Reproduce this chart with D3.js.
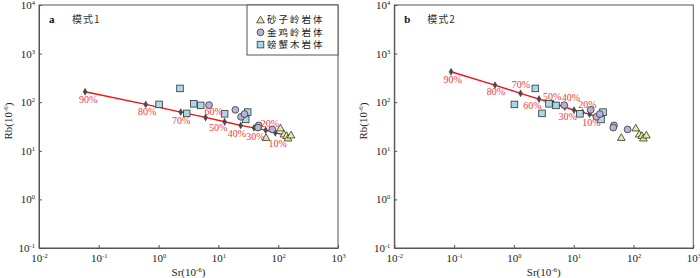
<!DOCTYPE html>
<html lang="zh">
<head>
<meta charset="UTF-8">
<title>Rb-Sr</title>
<script src="https://cdn.jsdelivr.net/npm/d3@7"></script>
<style>
body { margin: 0; background: #fff; }
</style>
</head>
<body>
<div id="chart"></div>
<script>
// ---- data ----
const groups = ["砂子岭岩体", "金鸡岭岩体", "螃蟹木岩体"];

const shaziSr = [62.5, 109, 125, 138, 146, 164];
const shaziRb = [18.7, 29.3, 22, 20.5, 18.2, 21];

const jinjiSr = [6.97, 19.2, 23.9, 27.3, 47.2, 45.9, 79.6];
const jinjiRb = [87, 69.7, 50, 57, 33.3, 30, 27.5];

const pangxieSr = [1.02, 2.28, 2.95, 3.86, 5.06, 12.7, 30.9, 28.6];
const pangxieRb = [90, 192, 58.8, 92.7, 86, 57.7, 62.5, 44.2];

// fractional crystallisation steps, last one = starting melt (no label)
const steps = ["90%", "80%", "70%", "60%", "50%", "40%", "30%", "20%", "10%", ""];
const modelASr = [0.059, 0.61, 2.34, 6.1, 12.7, 23.6, 39.4, 61.8, 89.5, 127];
const modelARb = [164, 90, 62.5, 48.6, 39.5, 33.3, 29.7, 26.6, 23.4, 21.4];
const modelBSr = [0.089, 0.483, 1.29, 2.63, 4.55, 7.1, 10.1, 14.0, 18.4, 23.8];
const modelBRb = [423, 225, 152, 116, 94.4, 79.6, 68.7, 61.7, 56.9, 50.0];

const xTicks = [0.01, 0.1, 1, 10, 100, 1000];
const yTicks = [0.1, 1, 10, 100, 1000, 10000];

// label offsets for the % tags (layout only)
const labelOffA = [[3,7.5],[1.5,7.5],[0.5,8],[8,-5.6],[-6.4,6],[-3.7,8],[1.5,9],[4.3,-6.7],[2.4,11]];
const labelOffB = [[1.5,7.6],[1,6.7],[0.5,-9],[-6.7,6],[-1.2,-6.6],[6,-10],[-6.3,6.7],[5,-8],[2,8.8]];

const W = 700, H = 278;
const plotTop = 5, plotBottom = 248;
const serif = '"Liberation Serif", "Times New Roman", serif';
const cjk = '"Noto Sans CJK SC", sans-serif';
const axisColor = '#555';
const lineRed = '#ee1111';
const tagRed = '#f03a3a';
const fillTri = '#e2ee9a', fillCir = '#b8b2d9', fillSq = '#a8d8e6';

const svg = d3.select('#chart').append('svg')
  .attr('width', W).attr('height', H)
  .style('display', 'block');

const panels = [
  {tag: 'a', title: '模式1', left: 39, right: 338, sr: modelASr, rb: modelARb, off: labelOffA, legend: true, rbX: 9},
  {tag: 'b', title: '模式2', left: 394.3, right: 693.3, sr: modelBSr, rb: modelBRb, off: labelOffB, legend: false, rbX: 364}
];

function expLabel(sel, d) {
  const e = Math.round(Math.log10(d));
  sel.text(null);
  sel.append('tspan').text('10');
  sel.append('tspan').attr('dy', -4).attr('font-size', 6.5).text(e);
}

function marker(g, kind, cx, cy) {
  if (kind == 0) {
    g.append('path')
      .attr('d', d3.symbol(d3.symbolTriangle, 26)())
      .attr('transform', `translate(${cx},${cy + 0.6})`)
      .attr('fill', fillTri).attr('stroke', '#333').attr('stroke-width', 0.8);
  } else if (kind == 1) {
    g.append('circle').attr('cx', cx).attr('cy', cy).attr('r', 3.4)
      .attr('fill', fillCir).attr('stroke', '#333').attr('stroke-width', 0.8);
  } else {
    g.append('rect').attr('x', cx - 3.3).attr('y', cy - 3.3)
      .attr('width', 6.6).attr('height', 6.6)
      .attr('fill', fillSq).attr('stroke', '#333').attr('stroke-width', 0.8);
  }
}

function drawPanel(p) {
  const x = d3.scaleLog().domain([0.01, 1000]).range([p.left, p.right]);
  const y = d3.scaleLog().domain([0.1, 10000]).range([plotBottom, plotTop]);
  const g = svg.append('g');

  // frame
  g.append('rect')
    .attr('x', p.left).attr('y', plotTop)
    .attr('width', p.right - p.left).attr('height', plotBottom - plotTop)
    .attr('fill', 'none').attr('stroke', axisColor).attr('stroke-width', 1);

  // axes, ticks point inward
  const xa = g.append('g').attr('transform', `translate(0,${plotBottom})`)
    .call(d3.axisBottom(x).tickValues(xTicks).tickSizeInner(-3).tickSizeOuter(0).tickPadding(6));
  const ya = g.append('g').attr('transform', `translate(${p.left},0)`)
    .call(d3.axisLeft(y).tickValues(yTicks).tickSizeInner(-3).tickSizeOuter(0).tickPadding(4));
  [xa, ya].forEach(a => {
    a.attr('font-family', serif);
    a.select('.domain').attr('stroke', axisColor);
    a.selectAll('.tick line').attr('stroke', axisColor);
    a.selectAll('.tick text')
      .attr('font-size', 11).attr('fill', '#222')
      .each(function(d) { expLabel(d3.select(this), d) });
  });

  // axis titles
  const xt = g.append('text')
    .attr('x', (p.left + p.right) / 2).attr('y', 276)
    .attr('font-family', serif)
    .attr('text-anchor', 'middle').attr('font-size', 11).attr('fill', '#222');
  xt.append('tspan').text('Sr(10');
  xt.append('tspan').attr('dy', -4).attr('font-size', 7).text('-6');
  xt.append('tspan').attr('dy', 4).text(')');

  const yt = g.append('text')
    .attr('transform', `translate(${p.rbX + 3},121) rotate(-90)`)
    .attr('font-family', serif)
    .attr('text-anchor', 'middle').attr('font-size', 11).attr('fill', '#222');
  yt.append('tspan').text('Rb(10');
  yt.append('tspan').attr('dy', -4).attr('font-size', 7).text('-6');
  yt.append('tspan').attr('dy', 4).text(')');

  // panel tag + title
  g.append('text').attr('x', p.left + 10).attr('y', 23)
    .attr('font-family', serif)
    .attr('font-size', 11).attr('font-weight', 'bold').attr('fill', '#111').text(p.tag);
  g.append('text').attr('x', p.left + 33).attr('y', 23)
    .attr('font-family', cjk)
    .attr('font-size', 10).attr('letter-spacing', 1).attr('fill', '#333').text(p.title);

  // model curve
  const pts = p.sr.map((s, i) => [x(s), y(p.rb[i])]);
  g.append('path')
    .attr('d', d3.line()(pts))
    .attr('fill', 'none').attr('stroke', lineRed).attr('stroke-width', 1.4);
  g.selectAll('.mk').data(pts.slice(0, 9)).enter()
    .append('path')
    .attr('d', d3.symbol(d3.symbolDiamond, 18)())
    .attr('transform', d => `translate(${d[0]},${d[1]})`)
    .attr('fill', '#4a4a4a');

  // samples
  const dg = g.append('g');
  pangxieSr.forEach((s, i) => marker(dg, 2, x(s), y(pangxieRb[i])));
  jinjiSr.forEach((s, i) => marker(dg, 1, x(s), y(jinjiRb[i])));
  shaziSr.forEach((s, i) => marker(dg, 0, x(s), y(shaziRb[i])));

  // % tags
  steps.slice(0, 9).forEach((t, i) => {
    g.append('text')
      .attr('x', pts[i][0] + p.off[i][0]).attr('y', pts[i][1] + p.off[i][1])
      .attr('dy', '0.35em').attr('text-anchor', 'middle')
      .attr('font-family', serif)
      .attr('font-size', 10).attr('fill', tagRed).text(t);
  });

  if (p.legend) {
    const lg = g.append('g');
    lg.append('rect').attr('x', 247).attr('y', plotTop)
      .attr('width', p.right - 247).attr('height', 50)
      .attr('fill', '#fff').attr('stroke', axisColor).attr('stroke-width', 1);
    groups.forEach((name, i) => {
      const cy = 20 + i * 12.3;
      marker(lg, i, 260.5, cy);
      lg.append('text')
        .attr('x', 267).attr('y', cy).attr('dy', '0.36em')
        .attr('font-family', cjk)
        .attr('font-size', 9.5).attr('letter-spacing', 2).attr('fill', '#222')
        .text(name);
    });
  }
}

panels.forEach(drawPanel);
</script>
</body>
</html>
